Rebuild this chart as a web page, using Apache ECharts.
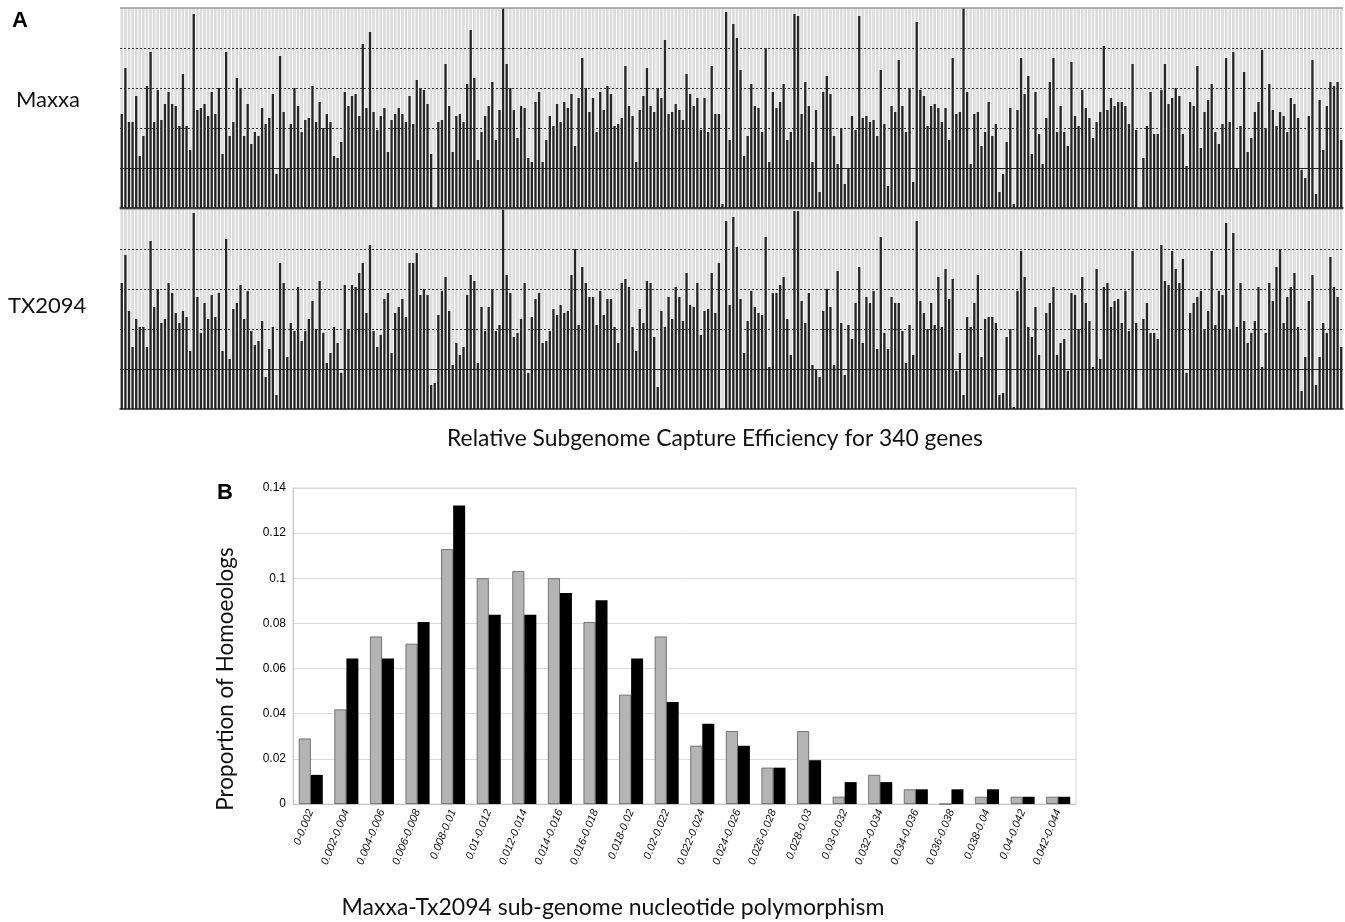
<!DOCTYPE html>
<html>
<head>
<meta charset="utf-8">
<script src="https://cdn.jsdelivr.net/npm/echarts@6/dist/echarts.min.js"></script>
<style>
  html, body { margin: 0; padding: 0; background: #fff; }
  #chart { width: 1345px; height: 922px; }
</style>
</head>
<body>
<div id="chart"></div>
<script>
// panel A: share of reads per gene (0..1)
const maxxa = [
  0.47,0.70,0.43,0.43,0.56,0.26,0.36,0.61,0.78,0.43,
  0.59,0.44,0.52,0.58,0.52,0.51,0.41,0.67,0.41,0.29,
  0.97,0.49,0.50,0.52,0.46,0.58,0.47,0.60,0.27,0.78,
  0.36,0.43,0.65,0.60,0.36,0.52,0.32,0.38,0.36,0.50,
  0.42,0.45,0.57,0.17,0.76,0.48,0.20,0.42,0.60,0.51,
  0.38,0.44,0.45,0.61,0.43,0.53,0.40,0.47,0.43,0.26,
  0.25,0.33,0.58,0.51,0.56,0.57,0.46,0.82,0.50,0.88,
  0.48,0.39,0.46,0.50,0.28,0.44,0.47,0.50,0.47,0.43,
  0.56,0.42,0.64,0.60,0.59,0.52,0.27,0,0.43,0.44,
  0.72,0.51,0.28,0.46,0.47,0.43,0.62,0.89,0.65,0.24,
  0.38,0.46,0.51,0.63,0.34,0.49,1.0,0.72,0.60,0.49,
  0.35,0.51,0.50,0.25,0.23,0.53,
  0.58,0.23,0.34,0.46,0.41,0.52,0.43,0.53,0.50,0.57,
  0.31,0.55,0.75,0.60,0.48,0.55,0.38,0.58,0.49,0.61,
  0.57,0.41,0.42,0.45,0.71,0.51,0.46,0.23,0.49,0.56,
  0.70,0.51,0.48,0.60,0.55,0.84,0.47,0.48,0.52,0.49,
  0.44,0.67,0.57,0.51,0.55,0.39,0.55,0.38,0.71,0.47,
  0.47,0.02,0.98,0.34,0.92,0.85,0.69,0.26,0.36,0.62,
  0.51,0.50,0.38,0.80,0.23,0.58,0.50,0.53,0.62,0.34,
  0.38,0.97,0.96,0.47,0.63,0.51,0.23,0.49,0.08,0.58,
  0.66,0.57,0.36,0.22,0.40,0.12,0.20,0.46,0.39,0.96,
  0.45,0.46,0.43,0.44,0.36,0.69,0.42,0.11,0.51,0.48,
  0.74,0.51,0.38,0.60,0.13,0.93,0.59,0.56,0.41,0.51,
  0.52,0.50,0.43,0.50,0.34,
  0.75,0.47,0.48,1.0,0.58,0.22,0.47,0.48,0.31,
  0.38,0.53,0.36,0.42,0.08,0.17,0.33,0.50,0.02,0.49,
  0.75,0.57,0.66,0.27,0.58,0.37,0.22,0.45,0.63,0.75,
  0.38,0.51,0.38,0.31,0.73,0.46,0.41,0.59,0.50,0.45,
  0.35,0.43,0.48,0.81,0.49,0.55,0.51,0.53,0.53,0.51,
  0.42,0.72,0.39,0,0.25,0.41,0.58,0.37,0.37,0.59,
  0.72,0.52,0.55,0.60,0.56,0.37,0.21,0.53,0.51,0.71,
  0.30,0.48,0.54,0.62,0.38,0.32,0.42,0.75,0.43,0.78,
  0.20,0.41,0.68,0.28,0.35,0.48,0.53,0.79,0.40,0.62,
  0.49,0.41,0.48,0.46,0.38,0.55,0.52,0.45,0.19,0.15,
  0.46,0.74,0.07,0.54,0.29,0.51,0.63,0.61,0.63,0.34
];

const tx2094 = [
  0.63,0.77,0.49,0.31,0.45,0.41,0.41,0.31,0.84,0.51,
  0.60,0.43,0.45,0.63,0.58,0.48,0.43,0.49,0.46,0.29,
  0.98,0.56,0.38,0.53,0.45,0.57,0.46,0.58,0.29,0.85,
  0.25,0.50,0.53,0.62,0.45,0.59,0.39,0.32,0.34,0.44,
  0.16,0.30,0.41,0.07,0.73,0.63,0.26,0.43,0.39,0.61,
  0.34,0.39,0.45,0.54,0.40,0.64,0.38,0.23,0.28,0.41,
  0.33,0.18,0.62,0.40,0.62,0.61,0.68,0.73,0.48,0.82,
  0.39,0.31,0.37,0.55,0.58,0.28,0.48,0.51,0.55,0.46,
  0.73,0.73,0.78,0.57,0.60,0.57,0.12,0.13,0.47,0.59,
  0.66,0.49,0.22,0.33,0.27,0.31,0.57,0.67,0.64,0.23,
  0.51,0.39,0.51,0.60,0.39,0.42,1.0,0.67,0.58,0.36,
  0.38,0.45,0.63,0.18,0.46,0.55,
  0.58,0.33,0.34,0.39,0.50,0.47,0.52,0.48,0.49,0.67,
  0.80,0.42,0.71,0.63,0.56,0.56,0.42,0.59,0.47,0.55,
  0.55,0.41,0.33,0.63,0.65,0.61,0.41,0.29,0.50,0.43,
  0.64,0.63,0.36,0.11,0.49,0.41,0.56,0.45,0.61,0.56,
  0.44,0.68,0.52,0.51,0.63,0.37,0.49,0.50,0.68,0.48,
  0.73,0,0.94,0.52,0.96,0.81,0.55,0.28,0.44,0.59,
  0.51,0.48,0.47,0.86,0.21,0.58,0.58,0.62,0.66,0.45,
  0.27,0.99,0.99,0.54,0.43,0.58,0.22,0.20,0.16,0.49,
  0.60,0.51,0.22,0.69,0.43,0.17,0.42,0.35,0.53,0.71,
  0.33,0.56,0.53,0.59,0.30,0.86,0.38,0.30,0.56,0.53,
  0.53,0.39,0.23,0.42,0.27,0.94,0.54,0.48,0.40,0.53,
  0.42,0.66,0.41,0.70,0.55,
  0.65,0.19,0.28,0.07,0.46,0.41,0.53,0.67,0.26,
  0.45,0.46,0.46,0.43,0.07,0.08,0.36,0.40,0.01,0.59,
  0.79,0.66,0.41,0.36,0.51,0.27,0,0.48,0.53,0.61,
  0.27,0.33,0.35,0.19,0.58,0.57,0.40,0.66,0.53,0.44,
  0.21,0.70,0.25,0.61,0.63,0.51,0.54,0.55,0.43,0.59,
  0.39,0.79,0.43,0,0.45,0.53,0.38,0.38,0.35,0.82,
  0.64,0.62,0.79,0.70,0.63,0.75,0.18,0.48,0.53,0.56,
  0.59,0.40,0.49,0.79,0.42,0.59,0.57,0.93,0.40,0.88,
  0.41,0.63,0.44,0.33,0.38,0.44,0.61,0.21,0.38,0.63,
  0.54,0.71,0.80,0.43,0.56,0.61,0.68,0.41,0.09,0.26,
  0.54,0.67,0.12,0.26,0.43,0.38,0.76,0.61,0.56,0.31
];

const genes = maxxa.map((_, i) => 'gene ' + (i + 1));
const gridTicks = [0.2, 0.4, 0.6, 0.8];

// panel B
const bins = [
  '0-0.002','0.002-0.004','0.004-0.006','0.006-0.008','0.008-0.01','0.01-0.012',
  '0.012-0.014','0.014-0.016','0.016-0.018','0.018-0.02','0.02-0.022','0.022-0.024',
  '0.024-0.026','0.026-0.028','0.028-0.03','0.03-0.032','0.032-0.034','0.034-0.036',
  '0.036-0.038','0.038-0.04','0.04-0.042','0.042-0.044'
];
const grayBars = [
  0.029,0.0419,0.0742,0.071,0.1129,0.1,0.1032,0.1,0.0806,0.0484,0.0742,
  0.0258,0.0323,0.0161,0.0323,0.0032,0.0129,0.0065,0,0.0032,0.0032,0.0032
];
const blackBars = [
  0.0129,0.0645,0.0645,0.0806,0.1323,0.0839,0.0839,0.0935,0.0903,0.0645,0.0452,
  0.0355,0.0258,0.0161,0.0194,0.0097,0.0097,0.0065,0.0065,0.0065,0.0032,0.0032
];

const myChart = echarts.init(document.getElementById('chart'));

const stripLines = gridTicks.map(v => ({
  yAxis: v,
  lineStyle: v === 0.2
    ? { color: '#222', width: 1.2, type: 'solid' }
    : { color: '#333', width: 1, type: [2, 2] }
})).concat([{ yAxis: 1, lineStyle: { color: '#999', width: 1.5, type: 'solid' } }]);

function stripX(gridIndex, line) {
  return {
    type: 'category', gridIndex, data: genes, z: 10,
    axisLine: { show: line, lineStyle: { color: '#222', width: 1.5 } },
    axisTick: { show: false }, axisLabel: { show: false }
  };
}
function stripSeries(values, gridIndex) {
  return [
    {
      type: 'bar', xAxisIndex: gridIndex * 2 + 1, yAxisIndex: gridIndex,
      data: genes.map(() => 1), barWidth: 2.7, silent: true,
      itemStyle: { color: '#dcdcdc' }, z: 1
    },
    {
      type: 'bar', xAxisIndex: gridIndex * 2, yAxisIndex: gridIndex,
      data: values, barWidth: 2.3, silent: true,
      itemStyle: { color: '#262626' }, z: 2,
      markLine: { silent: true, symbol: 'none', label: { show: false }, data: stripLines }
    }
  ];
}

const labelFont = 'Lato, "Open Sans", sans-serif';

myChart.setOption({
  animation: false,
  grid: [
    { left: 120, top: 8, width: 1223, height: 200 },
    { left: 120, top: 209, width: 1223, height: 200 },
    { left: 293, top: 488, width: 783, height: 316, show: true, borderColor: '#d6d6d6', borderWidth: 1 }
  ],
  xAxis: [
    stripX(0, true), stripX(0, false), stripX(1, true), stripX(1, false),
    {
      type: 'category', gridIndex: 2, data: bins,
      axisLine: { lineStyle: { color: '#c8c8c8' } },
      axisTick: { length: 4, lineStyle: { color: '#c8c8c8' } },
      axisLabel: {
        interval: 0, rotate: 68, margin: 6,
        fontFamily: '"Liberation Sans", Arial, sans-serif', fontSize: 11,
        fontStyle: 'italic', color: '#111'
      }
    }
  ],
  yAxis: [
    { type: 'value', gridIndex: 0, min: 0, max: 1, show: false },
    { type: 'value', gridIndex: 1, min: 0, max: 1, show: false },
    {
      type: 'value', gridIndex: 2, min: 0, max: 0.14, interval: 0.02,
      axisLine: { show: true, lineStyle: { color: '#c8c8c8' } },
      axisTick: { show: false },
      splitLine: { lineStyle: { color: '#dcdcdc' } },
      axisLabel: {
        margin: 7, fontFamily: '"Liberation Sans", Arial, sans-serif',
        fontSize: 12, color: '#000',
        formatter: v => String(parseFloat(v.toFixed(2)))
      }
    }
  ],
  series: [
    ...stripSeries(maxxa, 0),
    ...stripSeries(tx2094, 1),
    {
      name: 'Maxxa', type: 'bar', xAxisIndex: 4, yAxisIndex: 2,
      data: grayBars, barWidth: 12, barGap: 0,
      itemStyle: { color: '#b4b4b4', borderColor: '#5a5a5a', borderWidth: 0.8 }
    },
    {
      name: 'TX2094', type: 'bar', xAxisIndex: 4, yAxisIndex: 2,
      data: blackBars, barWidth: 12, barGap: 0,
      itemStyle: { color: '#000' }
    }
  ],
  graphic: [
    { type: 'text', x: 12, y: 21, style: { text: 'A', font: 'bold 22px "Liberation Sans", Arial', textVerticalAlign: 'middle' } },
    { type: 'text', x: 16, y: 100, style: { text: 'Maxxa', font: '22px ' + labelFont, fill: '#111', textVerticalAlign: 'middle' } },
    { type: 'text', x: 8, y: 306, style: { text: 'TX2094', font: '22px ' + labelFont, fill: '#111', textVerticalAlign: 'middle' } },
    { type: 'text', x: 715, y: 439, style: { text: 'Relative Subgenome Capture Efficiency for 340 genes', font: '22.8px ' + labelFont, fill: '#111', textAlign: 'center', textVerticalAlign: 'middle' } },
    { type: 'text', x: 217, y: 493, style: { text: 'B', font: 'bold 22px "Liberation Sans", Arial', textVerticalAlign: 'middle' } },
    { type: 'text', x: 226, y: 679, rotation: Math.PI / 2, style: { text: 'Proportion of Homoeologs', font: '22.5px ' + labelFont, fill: '#111', textAlign: 'center', textVerticalAlign: 'middle' } },
    { type: 'text', x: 613, y: 908, style: { text: 'Maxxa-Tx2094 sub-genome nucleotide polymorphism', font: '23px ' + labelFont, fill: '#111', textAlign: 'center', textVerticalAlign: 'middle' } }
  ]
});
</script>
</body>
</html>
